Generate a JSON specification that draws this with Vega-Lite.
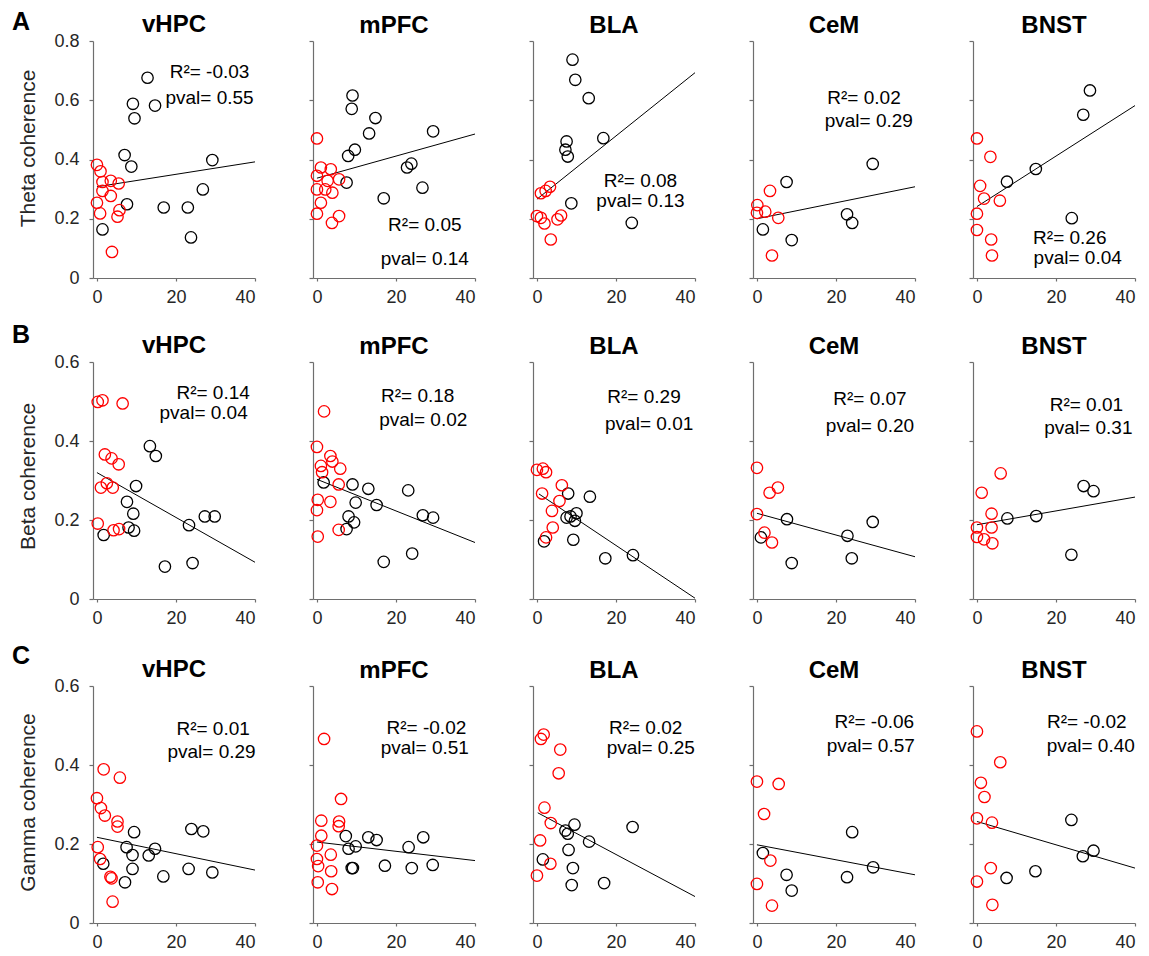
{
  "$schema": "https://vega.github.io/schema/vega-lite/v6.json",
  "background": "white",
  "padding": {"left": 11, "top": 10, "right": 5, "bottom": 0},
  "spacing": 17,
  "datasets": {
    "theta_vHPC": [
      {"kind": "point", "group": "high", "x": 12.8, "y": 0.676}, {"kind": "point", "group": "high", "x": 9.1, "y": 0.588},
      {"kind": "point", "group": "high", "x": 14.7, "y": 0.582}, {"kind": "point", "group": "high", "x": 9.5, "y": 0.539},
      {"kind": "point", "group": "high", "x": 7.0, "y": 0.415}, {"kind": "point", "group": "high", "x": 8.7, "y": 0.376},
      {"kind": "point", "group": "high", "x": 29.2, "y": 0.398}, {"kind": "point", "group": "high", "x": 26.8, "y": 0.299},
      {"kind": "point", "group": "high", "x": 16.9, "y": 0.238}, {"kind": "point", "group": "high", "x": 23.0, "y": 0.238},
      {"kind": "point", "group": "high", "x": 23.8, "y": 0.137}, {"kind": "point", "group": "high", "x": 7.6, "y": 0.249},
      {"kind": "point", "group": "high", "x": 1.4, "y": 0.164},
      {"kind": "point", "group": "low", "x": 0, "y": 0.382}, {"kind": "point", "group": "low", "x": 0.9, "y": 0.36},
      {"kind": "point", "group": "low", "x": 1.4, "y": 0.324}, {"kind": "point", "group": "low", "x": 3.5, "y": 0.328},
      {"kind": "point", "group": "low", "x": 5.5, "y": 0.319}, {"kind": "point", "group": "low", "x": 1.4, "y": 0.294},
      {"kind": "point", "group": "low", "x": 3.5, "y": 0.277}, {"kind": "point", "group": "low", "x": 0, "y": 0.254},
      {"kind": "point", "group": "low", "x": 0.8, "y": 0.218}, {"kind": "point", "group": "low", "x": 5.2, "y": 0.207},
      {"kind": "point", "group": "low", "x": 5.7, "y": 0.229}, {"kind": "point", "group": "low", "x": 3.8, "y": 0.088},
      {"kind": "fit", "x": 0, "y": 0.308}, {"kind": "fit", "x": 40, "y": 0.392},
      {"kind": "note", "x": 28.5, "y": 0.696, "label": "R²= -0.03"}, {"kind": "note", "x": 28.5, "y": 0.607, "label": "pval= 0.55"}
    ],
    "theta_mPFC": [
      {"kind": "point", "group": "high", "x": 9.0, "y": 0.616}, {"kind": "point", "group": "high", "x": 8.8, "y": 0.571},
      {"kind": "point", "group": "high", "x": 14.8, "y": 0.540}, {"kind": "point", "group": "high", "x": 13.2, "y": 0.488},
      {"kind": "point", "group": "high", "x": 9.6, "y": 0.433}, {"kind": "point", "group": "high", "x": 7.9, "y": 0.412},
      {"kind": "point", "group": "high", "x": 7.5, "y": 0.322}, {"kind": "point", "group": "high", "x": 16.9, "y": 0.269},
      {"kind": "point", "group": "high", "x": 29.4, "y": 0.495}, {"kind": "point", "group": "high", "x": 22.8, "y": 0.373},
      {"kind": "point", "group": "high", "x": 23.9, "y": 0.386}, {"kind": "point", "group": "high", "x": 26.7, "y": 0.305},
      {"kind": "point", "group": "low", "x": 0, "y": 0.471}, {"kind": "point", "group": "low", "x": 1.0, "y": 0.373},
      {"kind": "point", "group": "low", "x": 0, "y": 0.345}, {"kind": "point", "group": "low", "x": 3.5, "y": 0.367},
      {"kind": "point", "group": "low", "x": 5.6, "y": 0.333}, {"kind": "point", "group": "low", "x": 2.7, "y": 0.328},
      {"kind": "point", "group": "low", "x": 2.1, "y": 0.299}, {"kind": "point", "group": "low", "x": 0, "y": 0.299},
      {"kind": "point", "group": "low", "x": 3.9, "y": 0.288}, {"kind": "point", "group": "low", "x": 1.0, "y": 0.254},
      {"kind": "point", "group": "low", "x": 0, "y": 0.217}, {"kind": "point", "group": "low", "x": 5.6, "y": 0.209},
      {"kind": "point", "group": "low", "x": 3.8, "y": 0.186},
      {"kind": "fit", "x": 0, "y": 0.337}, {"kind": "fit", "x": 40, "y": 0.486},
      {"kind": "note", "x": 27.3, "y": 0.18, "label": "R²= 0.05"}, {"kind": "note", "x": 27.3, "y": 0.064, "label": "pval= 0.14"}
    ],
    "theta_BLA": [
      {"kind": "point", "group": "high", "x": 9.0, "y": 0.737}, {"kind": "point", "group": "high", "x": 9.7, "y": 0.669},
      {"kind": "point", "group": "high", "x": 13.1, "y": 0.607}, {"kind": "point", "group": "high", "x": 7.5, "y": 0.461},
      {"kind": "point", "group": "high", "x": 7.2, "y": 0.433}, {"kind": "point", "group": "high", "x": 7.8, "y": 0.41},
      {"kind": "point", "group": "high", "x": 16.8, "y": 0.472}, {"kind": "point", "group": "high", "x": 8.7, "y": 0.252},
      {"kind": "point", "group": "high", "x": 24.0, "y": 0.186},
      {"kind": "point", "group": "low", "x": 3.3, "y": 0.308}, {"kind": "point", "group": "low", "x": 2.2, "y": 0.294},
      {"kind": "point", "group": "low", "x": 1.0, "y": 0.286}, {"kind": "point", "group": "low", "x": 0, "y": 0.209},
      {"kind": "point", "group": "low", "x": 1.0, "y": 0.203}, {"kind": "point", "group": "low", "x": 1.9, "y": 0.184},
      {"kind": "point", "group": "low", "x": 5.2, "y": 0.198}, {"kind": "point", "group": "low", "x": 6.1, "y": 0.211},
      {"kind": "point", "group": "low", "x": 3.5, "y": 0.130},
      {"kind": "fit", "x": 0, "y": 0.266}, {"kind": "fit", "x": 40, "y": 0.693},
      {"kind": "note", "x": 26.2, "y": 0.326, "label": "R²= 0.08"}, {"kind": "note", "x": 26.2, "y": 0.259, "label": "pval= 0.13"}
    ],
    "theta_CeM": [
      {"kind": "point", "group": "high", "x": 7.5, "y": 0.324}, {"kind": "point", "group": "high", "x": 29.3, "y": 0.385},
      {"kind": "point", "group": "high", "x": 22.8, "y": 0.215}, {"kind": "point", "group": "high", "x": 24.1, "y": 0.186},
      {"kind": "point", "group": "high", "x": 1.5, "y": 0.164}, {"kind": "point", "group": "high", "x": 8.8, "y": 0.128},
      {"kind": "point", "group": "low", "x": 3.3, "y": 0.294}, {"kind": "point", "group": "low", "x": 0.1, "y": 0.246},
      {"kind": "point", "group": "low", "x": 0, "y": 0.220}, {"kind": "point", "group": "low", "x": 2.1, "y": 0.224},
      {"kind": "point", "group": "low", "x": 5.4, "y": 0.203}, {"kind": "point", "group": "low", "x": 3.8, "y": 0.076},
      {"kind": "fit", "x": 0, "y": 0.2}, {"kind": "fit", "x": 40, "y": 0.308},
      {"kind": "note", "x": 27.1, "y": 0.607, "label": "R²= 0.02"}, {"kind": "note", "x": 28.3, "y": 0.53, "label": "pval= 0.29"}
    ],
    "theta_BNST": [
      {"kind": "point", "group": "high", "x": 28.6, "y": 0.633}, {"kind": "point", "group": "high", "x": 26.9, "y": 0.551},
      {"kind": "point", "group": "high", "x": 14.9, "y": 0.368}, {"kind": "point", "group": "high", "x": 7.6, "y": 0.325},
      {"kind": "point", "group": "high", "x": 24.0, "y": 0.202},
      {"kind": "point", "group": "low", "x": 0, "y": 0.471}, {"kind": "point", "group": "low", "x": 3.4, "y": 0.409},
      {"kind": "point", "group": "low", "x": 0.8, "y": 0.311}, {"kind": "point", "group": "low", "x": 1.8, "y": 0.268},
      {"kind": "point", "group": "low", "x": 5.8, "y": 0.261}, {"kind": "point", "group": "low", "x": 0, "y": 0.217},
      {"kind": "point", "group": "low", "x": 0, "y": 0.162}, {"kind": "point", "group": "low", "x": 3.6, "y": 0.130},
      {"kind": "point", "group": "low", "x": 3.8, "y": 0.076},
      {"kind": "fit", "x": 0, "y": 0.241}, {"kind": "fit", "x": 40, "y": 0.582},
      {"kind": "note", "x": 23.5, "y": 0.134, "label": "R²= 0.26"}, {"kind": "note", "x": 25.5, "y": 0.068, "label": "pval= 0.04"}
    ],
    "beta_vHPC": [
      {"kind": "point", "group": "high", "x": 13.4, "y": 0.387}, {"kind": "point", "group": "high", "x": 14.9, "y": 0.362},
      {"kind": "point", "group": "high", "x": 9.9, "y": 0.286}, {"kind": "point", "group": "high", "x": 7.6, "y": 0.246},
      {"kind": "point", "group": "high", "x": 9.2, "y": 0.216}, {"kind": "point", "group": "high", "x": 8.0, "y": 0.181},
      {"kind": "point", "group": "high", "x": 9.4, "y": 0.173}, {"kind": "point", "group": "high", "x": 1.7, "y": 0.162},
      {"kind": "point", "group": "high", "x": 23.3, "y": 0.187}, {"kind": "point", "group": "high", "x": 27.3, "y": 0.209},
      {"kind": "point", "group": "high", "x": 29.8, "y": 0.209}, {"kind": "point", "group": "high", "x": 24.2, "y": 0.091},
      {"kind": "point", "group": "high", "x": 17.2, "y": 0.082},
      {"kind": "point", "group": "low", "x": 0.2, "y": 0.499}, {"kind": "point", "group": "low", "x": 1.4, "y": 0.503},
      {"kind": "point", "group": "low", "x": 6.5, "y": 0.495}, {"kind": "point", "group": "low", "x": 2.0, "y": 0.366},
      {"kind": "point", "group": "low", "x": 3.7, "y": 0.356}, {"kind": "point", "group": "low", "x": 5.5, "y": 0.341},
      {"kind": "point", "group": "low", "x": 2.5, "y": 0.293}, {"kind": "point", "group": "low", "x": 1.0, "y": 0.282},
      {"kind": "point", "group": "low", "x": 4.0, "y": 0.282}, {"kind": "point", "group": "low", "x": 0.2, "y": 0.191},
      {"kind": "point", "group": "low", "x": 4.2, "y": 0.174}, {"kind": "point", "group": "low", "x": 5.6, "y": 0.177},
      {"kind": "fit", "x": 0, "y": 0.320}, {"kind": "fit", "x": 40, "y": 0.093},
      {"kind": "note", "x": 29.4, "y": 0.522, "label": "R²= 0.14"}, {"kind": "note", "x": 27.0, "y": 0.470, "label": "pval= 0.04"}
    ],
    "beta_mPFC": [
      {"kind": "point", "group": "high", "x": 1.7, "y": 0.295}, {"kind": "point", "group": "high", "x": 9.0, "y": 0.290},
      {"kind": "point", "group": "high", "x": 13.0, "y": 0.279}, {"kind": "point", "group": "high", "x": 9.8, "y": 0.244},
      {"kind": "point", "group": "high", "x": 15.1, "y": 0.238}, {"kind": "point", "group": "high", "x": 8.0, "y": 0.209},
      {"kind": "point", "group": "high", "x": 9.4, "y": 0.194}, {"kind": "point", "group": "high", "x": 7.5, "y": 0.177},
      {"kind": "point", "group": "high", "x": 16.9, "y": 0.094}, {"kind": "point", "group": "high", "x": 23.1, "y": 0.275},
      {"kind": "point", "group": "high", "x": 26.8, "y": 0.212}, {"kind": "point", "group": "high", "x": 29.4, "y": 0.206},
      {"kind": "point", "group": "high", "x": 24.1, "y": 0.115},
      {"kind": "point", "group": "low", "x": 1.8, "y": 0.475}, {"kind": "point", "group": "low", "x": 0, "y": 0.385},
      {"kind": "point", "group": "low", "x": 3.4, "y": 0.362}, {"kind": "point", "group": "low", "x": 3.9, "y": 0.348},
      {"kind": "point", "group": "low", "x": 5.9, "y": 0.330}, {"kind": "point", "group": "low", "x": 1.0, "y": 0.337},
      {"kind": "point", "group": "low", "x": 1.3, "y": 0.321}, {"kind": "point", "group": "low", "x": 5.5, "y": 0.290},
      {"kind": "point", "group": "low", "x": 0.2, "y": 0.251}, {"kind": "point", "group": "low", "x": 3.4, "y": 0.246},
      {"kind": "point", "group": "low", "x": 0, "y": 0.225}, {"kind": "point", "group": "low", "x": 5.5, "y": 0.175},
      {"kind": "point", "group": "low", "x": 0.2, "y": 0.158},
      {"kind": "fit", "x": 0, "y": 0.303}, {"kind": "fit", "x": 40, "y": 0.143},
      {"kind": "note", "x": 25.5, "y": 0.515, "label": "R²= 0.18"}, {"kind": "note", "x": 26.9, "y": 0.452, "label": "pval= 0.02"}
    ],
    "beta_BLA": [
      {"kind": "point", "group": "high", "x": 7.9, "y": 0.267}, {"kind": "point", "group": "high", "x": 13.4, "y": 0.259},
      {"kind": "point", "group": "high", "x": 10.0, "y": 0.217}, {"kind": "point", "group": "high", "x": 7.5, "y": 0.206},
      {"kind": "point", "group": "high", "x": 8.5, "y": 0.209}, {"kind": "point", "group": "high", "x": 9.6, "y": 0.198},
      {"kind": "point", "group": "high", "x": 9.2, "y": 0.150}, {"kind": "point", "group": "high", "x": 1.8, "y": 0.146},
      {"kind": "point", "group": "high", "x": 17.3, "y": 0.103}, {"kind": "point", "group": "high", "x": 24.3, "y": 0.111},
      {"kind": "point", "group": "low", "x": 0, "y": 0.327}, {"kind": "point", "group": "low", "x": 1.5, "y": 0.330},
      {"kind": "point", "group": "low", "x": 2.3, "y": 0.321}, {"kind": "point", "group": "low", "x": 6.3, "y": 0.288},
      {"kind": "point", "group": "low", "x": 1.3, "y": 0.267}, {"kind": "point", "group": "low", "x": 5.7, "y": 0.248},
      {"kind": "point", "group": "low", "x": 3.8, "y": 0.223}, {"kind": "point", "group": "low", "x": 4.0, "y": 0.181},
      {"kind": "point", "group": "low", "x": 2.3, "y": 0.156},
      {"kind": "fit", "x": 0.5, "y": 0.266}, {"kind": "fit", "x": 40, "y": 0.002},
      {"kind": "note", "x": 27.1, "y": 0.512, "label": "R²= 0.29"}, {"kind": "note", "x": 28.4, "y": 0.442, "label": "pval= 0.01"}
    ],
    "beta_CeM": [
      {"kind": "point", "group": "high", "x": 7.6, "y": 0.202}, {"kind": "point", "group": "high", "x": 29.3, "y": 0.195},
      {"kind": "point", "group": "high", "x": 22.9, "y": 0.160}, {"kind": "point", "group": "high", "x": 24.0, "y": 0.103},
      {"kind": "point", "group": "high", "x": 8.8, "y": 0.091}, {"kind": "point", "group": "high", "x": 1.0, "y": 0.156},
      {"kind": "point", "group": "low", "x": 0, "y": 0.332}, {"kind": "point", "group": "low", "x": 5.3, "y": 0.282},
      {"kind": "point", "group": "low", "x": 3.2, "y": 0.269}, {"kind": "point", "group": "low", "x": 0, "y": 0.215},
      {"kind": "point", "group": "low", "x": 1.9, "y": 0.168}, {"kind": "point", "group": "low", "x": 3.8, "y": 0.143},
      {"kind": "fit", "x": 0, "y": 0.217}, {"kind": "fit", "x": 40, "y": 0.107},
      {"kind": "note", "x": 28.6, "y": 0.507, "label": "R²= 0.07"}, {"kind": "note", "x": 28.6, "y": 0.438, "label": "pval= 0.20"}
    ],
    "beta_BNST": [
      {"kind": "point", "group": "high", "x": 27.0, "y": 0.286}, {"kind": "point", "group": "high", "x": 29.5, "y": 0.273},
      {"kind": "point", "group": "high", "x": 7.7, "y": 0.204}, {"kind": "point", "group": "high", "x": 15.0, "y": 0.210},
      {"kind": "point", "group": "high", "x": 23.9, "y": 0.112},
      {"kind": "point", "group": "low", "x": 6.0, "y": 0.318}, {"kind": "point", "group": "low", "x": 1.2, "y": 0.269},
      {"kind": "point", "group": "low", "x": 3.7, "y": 0.216}, {"kind": "point", "group": "low", "x": 0, "y": 0.181},
      {"kind": "point", "group": "low", "x": 3.7, "y": 0.181}, {"kind": "point", "group": "low", "x": 0, "y": 0.157},
      {"kind": "point", "group": "low", "x": 1.8, "y": 0.151}, {"kind": "point", "group": "low", "x": 3.9, "y": 0.141},
      {"kind": "fit", "x": 0, "y": 0.188}, {"kind": "fit", "x": 40, "y": 0.258},
      {"kind": "note", "x": 27.7, "y": 0.492, "label": "R²= 0.01"}, {"kind": "note", "x": 28.2, "y": 0.434, "label": "pval= 0.31"}
    ],
    "gamma_vHPC": [
      {"kind": "point", "group": "high", "x": 23.9, "y": 0.238}, {"kind": "point", "group": "high", "x": 26.9, "y": 0.232},
      {"kind": "point", "group": "high", "x": 9.4, "y": 0.230}, {"kind": "point", "group": "high", "x": 7.5, "y": 0.192},
      {"kind": "point", "group": "high", "x": 14.7, "y": 0.188}, {"kind": "point", "group": "high", "x": 9.0, "y": 0.172},
      {"kind": "point", "group": "high", "x": 13.1, "y": 0.171}, {"kind": "point", "group": "high", "x": 1.6, "y": 0.150},
      {"kind": "point", "group": "high", "x": 9.0, "y": 0.137}, {"kind": "point", "group": "high", "x": 16.8, "y": 0.118},
      {"kind": "point", "group": "high", "x": 23.2, "y": 0.137}, {"kind": "point", "group": "high", "x": 29.2, "y": 0.128},
      {"kind": "point", "group": "high", "x": 7.1, "y": 0.103},
      {"kind": "point", "group": "low", "x": 1.7, "y": 0.389}, {"kind": "point", "group": "low", "x": 5.8, "y": 0.368},
      {"kind": "point", "group": "low", "x": 0, "y": 0.316}, {"kind": "point", "group": "low", "x": 1.0, "y": 0.291},
      {"kind": "point", "group": "low", "x": 2.0, "y": 0.272}, {"kind": "point", "group": "low", "x": 5.2, "y": 0.257},
      {"kind": "point", "group": "low", "x": 5.2, "y": 0.244}, {"kind": "point", "group": "low", "x": 0.2, "y": 0.192},
      {"kind": "point", "group": "low", "x": 0.8, "y": 0.162}, {"kind": "point", "group": "low", "x": 3.4, "y": 0.117},
      {"kind": "point", "group": "low", "x": 3.7, "y": 0.113}, {"kind": "point", "group": "low", "x": 3.96, "y": 0.054},
      {"kind": "fit", "x": 0, "y": 0.217}, {"kind": "fit", "x": 40, "y": 0.134},
      {"kind": "note", "x": 29.4, "y": 0.492, "label": "R²= 0.01"}, {"kind": "note", "x": 29.0, "y": 0.434, "label": "pval= 0.29"}
    ],
    "gamma_mPFC": [
      {"kind": "point", "group": "high", "x": 7.3, "y": 0.220}, {"kind": "point", "group": "high", "x": 13.0, "y": 0.217},
      {"kind": "point", "group": "high", "x": 15.1, "y": 0.210}, {"kind": "point", "group": "high", "x": 9.8, "y": 0.194},
      {"kind": "point", "group": "high", "x": 8.0, "y": 0.188}, {"kind": "point", "group": "high", "x": 8.8, "y": 0.139},
      {"kind": "point", "group": "high", "x": 9.1, "y": 0.139}, {"kind": "point", "group": "high", "x": 17.2, "y": 0.145},
      {"kind": "point", "group": "high", "x": 26.9, "y": 0.217}, {"kind": "point", "group": "high", "x": 23.2, "y": 0.192},
      {"kind": "point", "group": "high", "x": 29.3, "y": 0.147}, {"kind": "point", "group": "high", "x": 24.0, "y": 0.139},
      {"kind": "point", "group": "low", "x": 1.8, "y": 0.466}, {"kind": "point", "group": "low", "x": 6.1, "y": 0.314},
      {"kind": "point", "group": "low", "x": 1.1, "y": 0.259}, {"kind": "point", "group": "low", "x": 5.6, "y": 0.257},
      {"kind": "point", "group": "low", "x": 5.5, "y": 0.245}, {"kind": "point", "group": "low", "x": 1.1, "y": 0.221},
      {"kind": "point", "group": "low", "x": 0, "y": 0.196}, {"kind": "point", "group": "low", "x": 3.5, "y": 0.173},
      {"kind": "point", "group": "low", "x": 0, "y": 0.162}, {"kind": "point", "group": "low", "x": 0.3, "y": 0.144},
      {"kind": "point", "group": "low", "x": 3.6, "y": 0.131}, {"kind": "point", "group": "low", "x": 0.2, "y": 0.103},
      {"kind": "point", "group": "low", "x": 3.8, "y": 0.086},
      {"kind": "fit", "x": 0, "y": 0.205}, {"kind": "fit", "x": 40, "y": 0.158},
      {"kind": "note", "x": 27.7, "y": 0.494, "label": "R²= -0.02"}, {"kind": "note", "x": 27.3, "y": 0.444, "label": "pval= 0.51"}
    ],
    "gamma_BLA": [
      {"kind": "point", "group": "high", "x": 9.5, "y": 0.249}, {"kind": "point", "group": "high", "x": 24.2, "y": 0.243},
      {"kind": "point", "group": "high", "x": 7.2, "y": 0.234}, {"kind": "point", "group": "high", "x": 7.8, "y": 0.226},
      {"kind": "point", "group": "high", "x": 13.2, "y": 0.206}, {"kind": "point", "group": "high", "x": 8.0, "y": 0.185},
      {"kind": "point", "group": "high", "x": 1.5, "y": 0.161}, {"kind": "point", "group": "high", "x": 9.1, "y": 0.139},
      {"kind": "point", "group": "high", "x": 8.8, "y": 0.096}, {"kind": "point", "group": "high", "x": 17.0, "y": 0.101},
      {"kind": "point", "group": "low", "x": 1.7, "y": 0.477}, {"kind": "point", "group": "low", "x": 1.0, "y": 0.466},
      {"kind": "point", "group": "low", "x": 5.9, "y": 0.439}, {"kind": "point", "group": "low", "x": 5.5, "y": 0.379},
      {"kind": "point", "group": "low", "x": 1.9, "y": 0.292}, {"kind": "point", "group": "low", "x": 3.5, "y": 0.253},
      {"kind": "point", "group": "low", "x": 0.8, "y": 0.209}, {"kind": "point", "group": "low", "x": 3.4, "y": 0.150},
      {"kind": "point", "group": "low", "x": 0, "y": 0.120},
      {"kind": "fit", "x": 0.2, "y": 0.279}, {"kind": "fit", "x": 40, "y": 0.067},
      {"kind": "note", "x": 27.5, "y": 0.494, "label": "R²= 0.02"}, {"kind": "note", "x": 28.8, "y": 0.443, "label": "pval= 0.25"}
    ],
    "gamma_CeM": [
      {"kind": "point", "group": "high", "x": 24.1, "y": 0.230}, {"kind": "point", "group": "high", "x": 1.5, "y": 0.177},
      {"kind": "point", "group": "high", "x": 29.4, "y": 0.141}, {"kind": "point", "group": "high", "x": 7.5, "y": 0.122},
      {"kind": "point", "group": "high", "x": 22.8, "y": 0.116}, {"kind": "point", "group": "high", "x": 8.8, "y": 0.082},
      {"kind": "point", "group": "low", "x": 0, "y": 0.358}, {"kind": "point", "group": "low", "x": 5.5, "y": 0.352},
      {"kind": "point", "group": "low", "x": 1.8, "y": 0.276}, {"kind": "point", "group": "low", "x": 3.4, "y": 0.158},
      {"kind": "point", "group": "low", "x": 0, "y": 0.099}, {"kind": "point", "group": "low", "x": 3.8, "y": 0.044},
      {"kind": "fit", "x": 0, "y": 0.198}, {"kind": "fit", "x": 40, "y": 0.122},
      {"kind": "note", "x": 29.7, "y": 0.509, "label": "R²= -0.06"}, {"kind": "note", "x": 28.8, "y": 0.449, "label": "pval= 0.57"}
    ],
    "gamma_BNST": [
      {"kind": "point", "group": "high", "x": 23.9, "y": 0.261}, {"kind": "point", "group": "high", "x": 29.5, "y": 0.183},
      {"kind": "point", "group": "high", "x": 26.8, "y": 0.169}, {"kind": "point", "group": "high", "x": 14.8, "y": 0.131},
      {"kind": "point", "group": "high", "x": 7.5, "y": 0.114},
      {"kind": "point", "group": "low", "x": 0, "y": 0.485}, {"kind": "point", "group": "low", "x": 5.9, "y": 0.407},
      {"kind": "point", "group": "low", "x": 1.0, "y": 0.355}, {"kind": "point", "group": "low", "x": 1.9, "y": 0.319},
      {"kind": "point", "group": "low", "x": 0, "y": 0.265}, {"kind": "point", "group": "low", "x": 3.8, "y": 0.254},
      {"kind": "point", "group": "low", "x": 3.5, "y": 0.139}, {"kind": "point", "group": "low", "x": 0, "y": 0.105},
      {"kind": "point", "group": "low", "x": 3.9, "y": 0.046},
      {"kind": "fit", "x": 0, "y": 0.257}, {"kind": "fit", "x": 40, "y": 0.139},
      {"kind": "note", "x": 27.8, "y": 0.509, "label": "R²= -0.02"}, {"kind": "note", "x": 28.8, "y": 0.449, "label": "pval= 0.40"}
    ]
  },
  "vconcat": [
    {
      "title": {"text": "A", "anchor": "start", "frame": "bounds", "fontSize": 25, "offset": -22, "dx": -6},
      "bounds": "flush", "spacing": 58,
      "hconcat": [
        {"data": {"name": "theta_vHPC"}, "width": 162, "height": 237, "title": {"text": "vHPC", "offset": -5},
         "encoding": {"x": {"field": "x", "type": "quantitative", "scale": {"domain": [-1, 40], "nice": false, "zero": false}, "axis": {"values": [0, 20, 40], "title": null}},
                      "y": {"field": "y", "type": "quantitative", "scale": {"domain": [0, 0.8], "nice": false}, "axis": {"values": [0, 0.2, 0.4, 0.6, 0.8], "title": "Theta coherence", "titleY": 107, "labelExpr": "datum.value == 0 ? '0' : format(datum.value, '.1f')"}}},
         "layer": [
           {"transform": [{"filter": "datum.kind == 'fit'"}], "mark": {"type": "line", "color": "#000000", "strokeWidth": 1}, "encoding": {}},
           {"transform": [{"filter": "datum.kind == 'point'"}], "mark": {"type": "point", "shape": "circle", "size": 130, "strokeWidth": 1.3, "opacity": 1}, "encoding": {"color": {"field": "group", "type": "nominal", "scale": {"domain": ["low", "high"], "range": ["#ff0000", "#000000"]}, "legend": null}}},
           {"transform": [{"filter": "datum.kind == 'note'"}], "mark": {"type": "text", "fontSize": 19, "align": "center", "baseline": "middle", "color": "#000000"}, "encoding": {"text": {"field": "label"}}}
         ]},
        {"data": {"name": "theta_mPFC"}, "width": 162, "height": 237, "title": {"text": "mPFC", "offset": 2},
         "encoding": {"x": {"field": "x", "type": "quantitative", "scale": {"domain": [-1, 40], "nice": false, "zero": false}, "axis": {"values": [0, 20, 40], "title": null}},
                      "y": {"field": "y", "type": "quantitative", "scale": {"domain": [0, 0.8], "nice": false}, "axis": {"values": [0, 0.2, 0.4, 0.6, 0.8], "title": null, "labels": false}}},
         "layer": [
           {"transform": [{"filter": "datum.kind == 'fit'"}], "mark": {"type": "line", "color": "#000000", "strokeWidth": 1}, "encoding": {}},
           {"transform": [{"filter": "datum.kind == 'point'"}], "mark": {"type": "point", "shape": "circle", "size": 130, "strokeWidth": 1.3, "opacity": 1}, "encoding": {"color": {"field": "group", "type": "nominal", "scale": {"domain": ["low", "high"], "range": ["#ff0000", "#000000"]}, "legend": null}}},
           {"transform": [{"filter": "datum.kind == 'note'"}], "mark": {"type": "text", "fontSize": 19, "align": "center", "baseline": "middle", "color": "#000000"}, "encoding": {"text": {"field": "label"}}}
         ]},
        {"data": {"name": "theta_BLA"}, "width": 162, "height": 237, "title": {"text": "BLA", "offset": 2},
         "encoding": {"x": {"field": "x", "type": "quantitative", "scale": {"domain": [-1, 40], "nice": false, "zero": false}, "axis": {"values": [0, 20, 40], "title": null}},
                      "y": {"field": "y", "type": "quantitative", "scale": {"domain": [0, 0.8], "nice": false}, "axis": {"values": [0, 0.2, 0.4, 0.6, 0.8], "title": null, "labels": false}}},
         "layer": [
           {"transform": [{"filter": "datum.kind == 'fit'"}], "mark": {"type": "line", "color": "#000000", "strokeWidth": 1}, "encoding": {}},
           {"transform": [{"filter": "datum.kind == 'point'"}], "mark": {"type": "point", "shape": "circle", "size": 130, "strokeWidth": 1.3, "opacity": 1}, "encoding": {"color": {"field": "group", "type": "nominal", "scale": {"domain": ["low", "high"], "range": ["#ff0000", "#000000"]}, "legend": null}}},
           {"transform": [{"filter": "datum.kind == 'note'"}], "mark": {"type": "text", "fontSize": 19, "align": "center", "baseline": "middle", "color": "#000000"}, "encoding": {"text": {"field": "label"}}}
         ]},
        {"data": {"name": "theta_CeM"}, "width": 162, "height": 237, "title": {"text": "CeM", "offset": 2},
         "encoding": {"x": {"field": "x", "type": "quantitative", "scale": {"domain": [-1, 40], "nice": false, "zero": false}, "axis": {"values": [0, 20, 40], "title": null}},
                      "y": {"field": "y", "type": "quantitative", "scale": {"domain": [0, 0.8], "nice": false}, "axis": {"values": [0, 0.2, 0.4, 0.6, 0.8], "title": null, "labels": false}}},
         "layer": [
           {"transform": [{"filter": "datum.kind == 'fit'"}], "mark": {"type": "line", "color": "#000000", "strokeWidth": 1}, "encoding": {}},
           {"transform": [{"filter": "datum.kind == 'point'"}], "mark": {"type": "point", "shape": "circle", "size": 130, "strokeWidth": 1.3, "opacity": 1}, "encoding": {"color": {"field": "group", "type": "nominal", "scale": {"domain": ["low", "high"], "range": ["#ff0000", "#000000"]}, "legend": null}}},
           {"transform": [{"filter": "datum.kind == 'note'"}], "mark": {"type": "text", "fontSize": 19, "align": "center", "baseline": "middle", "color": "#000000"}, "encoding": {"text": {"field": "label"}}}
         ]},
        {"data": {"name": "theta_BNST"}, "width": 162, "height": 237, "title": {"text": "BNST", "offset": 2},
         "encoding": {"x": {"field": "x", "type": "quantitative", "scale": {"domain": [-1, 40], "nice": false, "zero": false}, "axis": {"values": [0, 20, 40], "title": null}},
                      "y": {"field": "y", "type": "quantitative", "scale": {"domain": [0, 0.8], "nice": false}, "axis": {"values": [0, 0.2, 0.4, 0.6, 0.8], "title": null, "labels": false}}},
         "layer": [
           {"transform": [{"filter": "datum.kind == 'fit'"}], "mark": {"type": "line", "color": "#000000", "strokeWidth": 1}, "encoding": {}},
           {"transform": [{"filter": "datum.kind == 'point'"}], "mark": {"type": "point", "shape": "circle", "size": 130, "strokeWidth": 1.3, "opacity": 1}, "encoding": {"color": {"field": "group", "type": "nominal", "scale": {"domain": ["low", "high"], "range": ["#ff0000", "#000000"]}, "legend": null}}},
           {"transform": [{"filter": "datum.kind == 'note'"}], "mark": {"type": "text", "fontSize": 19, "align": "center", "baseline": "middle", "color": "#000000"}, "encoding": {"text": {"field": "label"}}}
         ]}
      ]
    },
    {
      "title": {"text": "B", "anchor": "start", "frame": "bounds", "fontSize": 25, "offset": -14, "dx": -6},
      "bounds": "flush", "spacing": 58,
      "hconcat": [
        {"data": {"name": "beta_vHPC"}, "width": 162, "height": 237, "title": {"text": "vHPC", "offset": -5},
         "encoding": {"x": {"field": "x", "type": "quantitative", "scale": {"domain": [-1, 40], "nice": false, "zero": false}, "axis": {"values": [0, 20, 40], "title": null}},
                      "y": {"field": "y", "type": "quantitative", "scale": {"domain": [0, 0.6], "nice": false}, "axis": {"values": [0, 0.2, 0.4, 0.6], "title": "Beta coherence", "titleY": 114, "labelExpr": "datum.value == 0 ? '0' : format(datum.value, '.1f')"}}},
         "layer": [
           {"transform": [{"filter": "datum.kind == 'fit'"}], "mark": {"type": "line", "color": "#000000", "strokeWidth": 1}, "encoding": {}},
           {"transform": [{"filter": "datum.kind == 'point'"}], "mark": {"type": "point", "shape": "circle", "size": 130, "strokeWidth": 1.3, "opacity": 1}, "encoding": {"color": {"field": "group", "type": "nominal", "scale": {"domain": ["low", "high"], "range": ["#ff0000", "#000000"]}, "legend": null}}},
           {"transform": [{"filter": "datum.kind == 'note'"}], "mark": {"type": "text", "fontSize": 19, "align": "center", "baseline": "middle", "color": "#000000"}, "encoding": {"text": {"field": "label"}}}
         ]},
        {"data": {"name": "beta_mPFC"}, "width": 162, "height": 237, "title": {"text": "mPFC", "offset": 2},
         "encoding": {"x": {"field": "x", "type": "quantitative", "scale": {"domain": [-1, 40], "nice": false, "zero": false}, "axis": {"values": [0, 20, 40], "title": null}},
                      "y": {"field": "y", "type": "quantitative", "scale": {"domain": [0, 0.6], "nice": false}, "axis": {"values": [0, 0.2, 0.4, 0.6], "title": null, "labels": false}}},
         "layer": [
           {"transform": [{"filter": "datum.kind == 'fit'"}], "mark": {"type": "line", "color": "#000000", "strokeWidth": 1}, "encoding": {}},
           {"transform": [{"filter": "datum.kind == 'point'"}], "mark": {"type": "point", "shape": "circle", "size": 130, "strokeWidth": 1.3, "opacity": 1}, "encoding": {"color": {"field": "group", "type": "nominal", "scale": {"domain": ["low", "high"], "range": ["#ff0000", "#000000"]}, "legend": null}}},
           {"transform": [{"filter": "datum.kind == 'note'"}], "mark": {"type": "text", "fontSize": 19, "align": "center", "baseline": "middle", "color": "#000000"}, "encoding": {"text": {"field": "label"}}}
         ]},
        {"data": {"name": "beta_BLA"}, "width": 162, "height": 237, "title": {"text": "BLA", "offset": 2},
         "encoding": {"x": {"field": "x", "type": "quantitative", "scale": {"domain": [-1, 40], "nice": false, "zero": false}, "axis": {"values": [0, 20, 40], "title": null}},
                      "y": {"field": "y", "type": "quantitative", "scale": {"domain": [0, 0.6], "nice": false}, "axis": {"values": [0, 0.2, 0.4, 0.6], "title": null, "labels": false}}},
         "layer": [
           {"transform": [{"filter": "datum.kind == 'fit'"}], "mark": {"type": "line", "color": "#000000", "strokeWidth": 1}, "encoding": {}},
           {"transform": [{"filter": "datum.kind == 'point'"}], "mark": {"type": "point", "shape": "circle", "size": 130, "strokeWidth": 1.3, "opacity": 1}, "encoding": {"color": {"field": "group", "type": "nominal", "scale": {"domain": ["low", "high"], "range": ["#ff0000", "#000000"]}, "legend": null}}},
           {"transform": [{"filter": "datum.kind == 'note'"}], "mark": {"type": "text", "fontSize": 19, "align": "center", "baseline": "middle", "color": "#000000"}, "encoding": {"text": {"field": "label"}}}
         ]},
        {"data": {"name": "beta_CeM"}, "width": 162, "height": 237, "title": {"text": "CeM", "offset": 2},
         "encoding": {"x": {"field": "x", "type": "quantitative", "scale": {"domain": [-1, 40], "nice": false, "zero": false}, "axis": {"values": [0, 20, 40], "title": null}},
                      "y": {"field": "y", "type": "quantitative", "scale": {"domain": [0, 0.6], "nice": false}, "axis": {"values": [0, 0.2, 0.4, 0.6], "title": null, "labels": false}}},
         "layer": [
           {"transform": [{"filter": "datum.kind == 'fit'"}], "mark": {"type": "line", "color": "#000000", "strokeWidth": 1}, "encoding": {}},
           {"transform": [{"filter": "datum.kind == 'point'"}], "mark": {"type": "point", "shape": "circle", "size": 130, "strokeWidth": 1.3, "opacity": 1}, "encoding": {"color": {"field": "group", "type": "nominal", "scale": {"domain": ["low", "high"], "range": ["#ff0000", "#000000"]}, "legend": null}}},
           {"transform": [{"filter": "datum.kind == 'note'"}], "mark": {"type": "text", "fontSize": 19, "align": "center", "baseline": "middle", "color": "#000000"}, "encoding": {"text": {"field": "label"}}}
         ]},
        {"data": {"name": "beta_BNST"}, "width": 162, "height": 237, "title": {"text": "BNST", "offset": 2},
         "encoding": {"x": {"field": "x", "type": "quantitative", "scale": {"domain": [-1, 40], "nice": false, "zero": false}, "axis": {"values": [0, 20, 40], "title": null}},
                      "y": {"field": "y", "type": "quantitative", "scale": {"domain": [0, 0.6], "nice": false}, "axis": {"values": [0, 0.2, 0.4, 0.6], "title": null, "labels": false}}},
         "layer": [
           {"transform": [{"filter": "datum.kind == 'fit'"}], "mark": {"type": "line", "color": "#000000", "strokeWidth": 1}, "encoding": {}},
           {"transform": [{"filter": "datum.kind == 'point'"}], "mark": {"type": "point", "shape": "circle", "size": 130, "strokeWidth": 1.3, "opacity": 1}, "encoding": {"color": {"field": "group", "type": "nominal", "scale": {"domain": ["low", "high"], "range": ["#ff0000", "#000000"]}, "legend": null}}},
           {"transform": [{"filter": "datum.kind == 'note'"}], "mark": {"type": "text", "fontSize": 19, "align": "center", "baseline": "middle", "color": "#000000"}, "encoding": {"text": {"field": "label"}}}
         ]}
      ]
    },
    {
      "title": {"text": "C", "anchor": "start", "frame": "bounds", "fontSize": 25, "offset": -11, "dx": -6},
      "bounds": "flush", "spacing": 58,
      "hconcat": [
        {"data": {"name": "gamma_vHPC"}, "width": 162, "height": 237, "title": {"text": "vHPC", "offset": -5},
         "encoding": {"x": {"field": "x", "type": "quantitative", "scale": {"domain": [-1, 40], "nice": false, "zero": false}, "axis": {"values": [0, 20, 40], "title": null}},
                      "y": {"field": "y", "type": "quantitative", "scale": {"domain": [0, 0.6], "nice": false}, "axis": {"values": [0, 0.2, 0.4, 0.6], "title": "Gamma coherence", "titleY": 116, "labelExpr": "datum.value == 0 ? '0' : format(datum.value, '.1f')"}}},
         "layer": [
           {"transform": [{"filter": "datum.kind == 'fit'"}], "mark": {"type": "line", "color": "#000000", "strokeWidth": 1}, "encoding": {}},
           {"transform": [{"filter": "datum.kind == 'point'"}], "mark": {"type": "point", "shape": "circle", "size": 130, "strokeWidth": 1.3, "opacity": 1}, "encoding": {"color": {"field": "group", "type": "nominal", "scale": {"domain": ["low", "high"], "range": ["#ff0000", "#000000"]}, "legend": null}}},
           {"transform": [{"filter": "datum.kind == 'note'"}], "mark": {"type": "text", "fontSize": 19, "align": "center", "baseline": "middle", "color": "#000000"}, "encoding": {"text": {"field": "label"}}}
         ]},
        {"data": {"name": "gamma_mPFC"}, "width": 162, "height": 237, "title": {"text": "mPFC", "offset": 2},
         "encoding": {"x": {"field": "x", "type": "quantitative", "scale": {"domain": [-1, 40], "nice": false, "zero": false}, "axis": {"values": [0, 20, 40], "title": null}},
                      "y": {"field": "y", "type": "quantitative", "scale": {"domain": [0, 0.6], "nice": false}, "axis": {"values": [0, 0.2, 0.4, 0.6], "title": null, "labels": false}}},
         "layer": [
           {"transform": [{"filter": "datum.kind == 'fit'"}], "mark": {"type": "line", "color": "#000000", "strokeWidth": 1}, "encoding": {}},
           {"transform": [{"filter": "datum.kind == 'point'"}], "mark": {"type": "point", "shape": "circle", "size": 130, "strokeWidth": 1.3, "opacity": 1}, "encoding": {"color": {"field": "group", "type": "nominal", "scale": {"domain": ["low", "high"], "range": ["#ff0000", "#000000"]}, "legend": null}}},
           {"transform": [{"filter": "datum.kind == 'note'"}], "mark": {"type": "text", "fontSize": 19, "align": "center", "baseline": "middle", "color": "#000000"}, "encoding": {"text": {"field": "label"}}}
         ]},
        {"data": {"name": "gamma_BLA"}, "width": 162, "height": 237, "title": {"text": "BLA", "offset": 2},
         "encoding": {"x": {"field": "x", "type": "quantitative", "scale": {"domain": [-1, 40], "nice": false, "zero": false}, "axis": {"values": [0, 20, 40], "title": null}},
                      "y": {"field": "y", "type": "quantitative", "scale": {"domain": [0, 0.6], "nice": false}, "axis": {"values": [0, 0.2, 0.4, 0.6], "title": null, "labels": false}}},
         "layer": [
           {"transform": [{"filter": "datum.kind == 'fit'"}], "mark": {"type": "line", "color": "#000000", "strokeWidth": 1}, "encoding": {}},
           {"transform": [{"filter": "datum.kind == 'point'"}], "mark": {"type": "point", "shape": "circle", "size": 130, "strokeWidth": 1.3, "opacity": 1}, "encoding": {"color": {"field": "group", "type": "nominal", "scale": {"domain": ["low", "high"], "range": ["#ff0000", "#000000"]}, "legend": null}}},
           {"transform": [{"filter": "datum.kind == 'note'"}], "mark": {"type": "text", "fontSize": 19, "align": "center", "baseline": "middle", "color": "#000000"}, "encoding": {"text": {"field": "label"}}}
         ]},
        {"data": {"name": "gamma_CeM"}, "width": 162, "height": 237, "title": {"text": "CeM", "offset": 2},
         "encoding": {"x": {"field": "x", "type": "quantitative", "scale": {"domain": [-1, 40], "nice": false, "zero": false}, "axis": {"values": [0, 20, 40], "title": null}},
                      "y": {"field": "y", "type": "quantitative", "scale": {"domain": [0, 0.6], "nice": false}, "axis": {"values": [0, 0.2, 0.4, 0.6], "title": null, "labels": false}}},
         "layer": [
           {"transform": [{"filter": "datum.kind == 'fit'"}], "mark": {"type": "line", "color": "#000000", "strokeWidth": 1}, "encoding": {}},
           {"transform": [{"filter": "datum.kind == 'point'"}], "mark": {"type": "point", "shape": "circle", "size": 130, "strokeWidth": 1.3, "opacity": 1}, "encoding": {"color": {"field": "group", "type": "nominal", "scale": {"domain": ["low", "high"], "range": ["#ff0000", "#000000"]}, "legend": null}}},
           {"transform": [{"filter": "datum.kind == 'note'"}], "mark": {"type": "text", "fontSize": 19, "align": "center", "baseline": "middle", "color": "#000000"}, "encoding": {"text": {"field": "label"}}}
         ]},
        {"data": {"name": "gamma_BNST"}, "width": 162, "height": 237, "title": {"text": "BNST", "offset": 2},
         "encoding": {"x": {"field": "x", "type": "quantitative", "scale": {"domain": [-1, 40], "nice": false, "zero": false}, "axis": {"values": [0, 20, 40], "title": null}},
                      "y": {"field": "y", "type": "quantitative", "scale": {"domain": [0, 0.6], "nice": false}, "axis": {"values": [0, 0.2, 0.4, 0.6], "title": null, "labels": false}}},
         "layer": [
           {"transform": [{"filter": "datum.kind == 'fit'"}], "mark": {"type": "line", "color": "#000000", "strokeWidth": 1}, "encoding": {}},
           {"transform": [{"filter": "datum.kind == 'point'"}], "mark": {"type": "point", "shape": "circle", "size": 130, "strokeWidth": 1.3, "opacity": 1}, "encoding": {"color": {"field": "group", "type": "nominal", "scale": {"domain": ["low", "high"], "range": ["#ff0000", "#000000"]}, "legend": null}}},
           {"transform": [{"filter": "datum.kind == 'note'"}], "mark": {"type": "text", "fontSize": 19, "align": "center", "baseline": "middle", "color": "#000000"}, "encoding": {"text": {"field": "label"}}}
         ]}
      ]
    }
  ],
  "config": {
    "font": "Liberation Sans",
    "view": {"stroke": null},
    "title": {"fontSize": 24, "fontWeight": "bold", "color": "#000000", "anchor": "middle", "frame": "group", "offset": 9},
    "axis": {"grid": false, "domainColor": "#6e6e6e", "domainWidth": 1.2, "tickColor": "#6e6e6e", "tickWidth": 1.2, "labelColor": "#262626", "labelFontSize": 18, "labelFont": "Liberation Sans", "titleFont": "Liberation Sans", "titleFontSize": 21, "titleFontWeight": "normal", "titleColor": "#262626"},
    "axisX": {"tickSize": 3, "labelPadding": 7},
    "axisY": {"tickSize": 4, "labelPadding": 10, "titlePadding": 15}
  }
}
